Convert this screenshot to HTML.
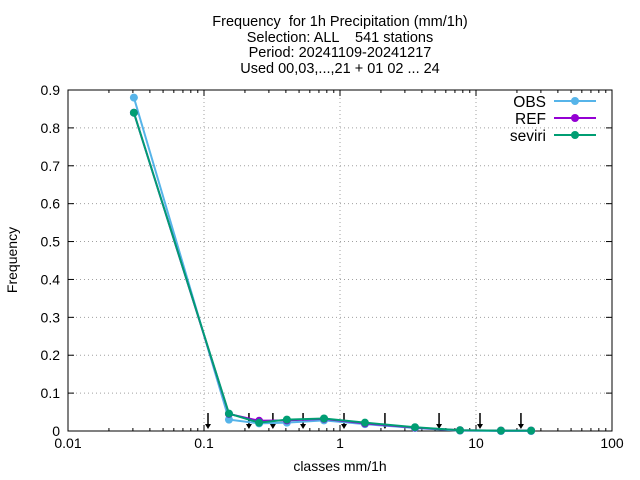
<!DOCTYPE html>
<html><head><meta charset="utf-8"><style>
body{margin:0;background:#fff}
svg{display:block;font-family:"Liberation Sans",sans-serif}
text{white-space:pre}
</style></head><body>
<svg id="chart" width="640" height="480">
<g font-size="14.5" text-anchor="middle">
<text x="340" y="26">Frequency  for 1h Precipitation (mm/1h)</text>
<text x="340" y="42">Selection: ALL    541 stations</text>
<text x="340" y="57">Period: 20241109-20241217</text>
<text x="340" y="73">Used 00,03,...,21 + 01 02 ... 24</text>
</g>
<g id="grid"></g><g id="axes"></g><g id="arrows"></g><g id="series"></g><g id="legend"></g>
<text x="340" y="471" font-size="14" text-anchor="middle">classes mm/1h</text>
<text transform="translate(17,260) rotate(-90)" font-size="14" text-anchor="middle">Frequency</text>
</svg>
<script>
const classes=[0.03,0.15,0.25,0.4,0.75,1.5,3.5,7.5,15,25];
const obsValues=[0.88,0.03,0.02,0.022,0.028,0.018,0.008,0.001,0,0];
const refValues=[0.84,0.045,0.027,0.028,0.032,0.02,0.009,0.002,0.001,0.001];
const seviriValues=[0.84,0.046,0.022,0.03,0.033,0.022,0.01,0.002,0.001,0.001];
const thresholds=[0.1,0.2,0.3,0.5,1,2,5,10,20];
const yTicks=[0,0.1,0.2,0.3,0.4,0.5,0.6,0.7,0.8,0.9];
const xTicks=[0.01,0.1,1,10,100];
const xTickLabels=["0.01","0.1","1","10","100"];
const L=68,R=612,T=90,B=431;
const NS="http://www.w3.org/2000/svg";
const xs=v=>L+(Math.log10(v)+2)/4*(R-L);
const ys=v=>B-v/0.9*(B-T);
function mk(tag,attrs,parent){const e=document.createElementNS(NS,tag);for(const k in attrs)e.setAttribute(k,attrs[k]);parent.appendChild(e);return e;}
const grid=document.getElementById('grid'),axes=document.getElementById('axes');
yTicks.forEach((t,i)=>{const y=ys(t);
 if(i>0&&i<yTicks.length-1){const g=mk('line',{x1:L,x2:R,y1:y,y2:y,stroke:'#a0a0a0','stroke-dasharray':'1,3'},grid);}
 mk('line',{x1:L,x2:L+6,y1:y,y2:y,stroke:'#000'},axes);mk('line',{x1:R,x2:R-6,y1:y,y2:y,stroke:'#000'},axes);
 const tx=mk('text',{x:L-8,y:y+5,'font-size':14,'text-anchor':'end'},axes);tx.textContent=t===0?'0':t.toFixed(1);
 });
xTicks.forEach((t,i)=>{const x=xs(t);
 if(i>0&&i<xTicks.length-1){const g=mk('line',{x1:x,x2:x,y1:T,y2:B,stroke:'#a0a0a0','stroke-dasharray':'1,3'},grid);}
 mk('line',{x1:x,x2:x,y1:B,y2:B-6,stroke:'#000'},axes);mk('line',{x1:x,x2:x,y1:T,y2:T+6,stroke:'#000'},axes);
 if(i<xTicks.length-1)for(let m=2;m<10;m++){const mx=xs(t*m);mk('line',{x1:mx,x2:mx,y1:B,y2:B-3,stroke:'#000'},axes);mk('line',{x1:mx,x2:mx,y1:T,y2:T+3,stroke:'#000'},axes);}
 const tx=mk('text',{x:x,y:B+17,'font-size':14,'text-anchor':'middle'},axes);tx.textContent=xTickLabels[i];
 });
const fr=mk('rect',{x:L,y:T,width:R-L,height:B-T,fill:'none',stroke:'#000'},axes);

const arrows=document.getElementById('arrows');
thresholds.forEach(t=>{const x=xs(t)+4;const g=mk('g',{},arrows);
 
 mk('line',{x1:x,x2:x,y1:413,y2:425,stroke:'#000','stroke-width':1.5},g);
 mk('path',{d:`M${x-3},${424} L${x+3},${424} L${x},${429} Z`,fill:'#000'},g);});
const series=[['OBS',obsValues,'#56b4e9'],['REF',refValues,'#9400d3'],['seviri',seviriValues,'#009e73']];
const sg=document.getElementById('series'),lg=document.getElementById('legend');
series.forEach(([name,vals,col],si)=>{const g=mk('g',{},sg);
 
 mk('polyline',{points:classes.map((c,i)=>(xs(c)+1)+','+ys(vals[i])).join(' '),fill:'none',stroke:col,'stroke-width':2},g);
 classes.forEach((c,i)=>{const p=mk('circle',{cx:xs(c)+1,cy:ys(vals[i]),r:4,fill:col},g);
  });
 const y=101+si*17;const e=mk('g',{},lg);
 
 const t=mk('text',{x:546,y:y+6,'font-size':15.5,'text-anchor':'end'},e);t.textContent=name;
 mk('line',{x1:554,x2:596,y1:y,y2:y,stroke:col,'stroke-width':2},e);
 mk('circle',{cx:575,cy:y,r:4,fill:col},e);});
</script>
</body></html>
